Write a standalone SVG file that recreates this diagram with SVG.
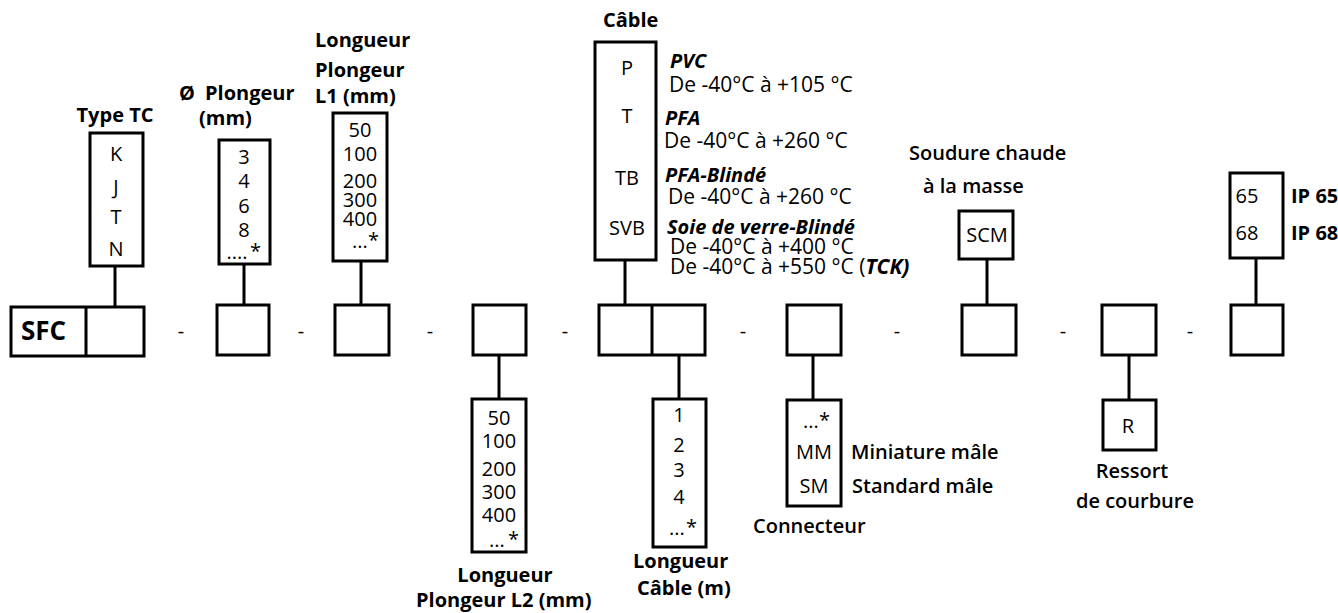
<svg xmlns="http://www.w3.org/2000/svg" width="1338" height="613" viewBox="0 0 1338 613">
<style>
text{font-family:"Open Sans","Noto Sans","DejaVu Sans",sans-serif;fill:#000;font-size:20px}
.b{fill:none;stroke:#000;stroke-width:3}
.c{text-anchor:middle}
.lb{font-weight:700}
.md{font-weight:600}
.it{font-weight:700;font-style:italic}
.d{font-size:21px}
</style>
<rect width="1338" height="613" fill="#fff"/>
<g id="connectors" stroke="#000" stroke-width="3" fill="none">
<line x1="115" y1="266" x2="115" y2="307"/>
<line x1="244" y1="264" x2="244" y2="305"/>
<line x1="361" y1="261" x2="361" y2="305"/>
<line x1="625" y1="260" x2="625" y2="305"/>
<line x1="987" y1="259" x2="987" y2="305"/>
<line x1="1256" y1="258" x2="1256" y2="305"/>
<line x1="499" y1="355" x2="499" y2="399"/>
<line x1="679" y1="355" x2="679" y2="399"/>
<line x1="813" y1="355" x2="813" y2="400"/>
<line x1="1129" y1="355" x2="1129" y2="400"/>
</g>
<g id="main-row">
<rect class="b" x="11" y="307" width="133" height="49"/>
<line x1="86" y1="307" x2="86" y2="356" stroke="#000" stroke-width="3"/>
<text x="21" y="340" style="font-size:26px;font-weight:700">SFC</text>
<rect class="b" x="217" y="305" width="52" height="50"/>
<rect class="b" x="335" y="305" width="54" height="50"/>
<rect class="b" x="473" y="305" width="53" height="50"/>
<rect class="b" x="599" y="305" width="106" height="50"/>
<line x1="652" y1="305" x2="652" y2="355" stroke="#000" stroke-width="3"/>
<rect class="b" x="787" y="305" width="54" height="50"/>
<rect class="b" x="962" y="305" width="54" height="50"/>
<rect class="b" x="1102" y="305" width="54" height="50"/>
<rect class="b" x="1231" y="305" width="52" height="50"/>
<text class="c" x="181" y="338">-</text>
<text class="c" x="301" y="338">-</text>
<text class="c" x="430" y="338">-</text>
<text class="c" x="565" y="338">-</text>
<text class="c" x="743" y="338">-</text>
<text class="c" x="897" y="338">-</text>
<text class="c" x="1063" y="338">-</text>
<text class="c" x="1190" y="338">-</text>
</g>
<g id="type-tc">
<rect class="b" x="90" y="133" width="53" height="133"/>
<text class="c lb" x="115" y="122">Type TC</text>
<text class="c" x="116" y="161">K</text>
<text class="c" x="116" y="194">J</text>
<text class="c" x="116" y="224">T</text>
<text class="c" x="116" y="256">N</text>
</g>
<g id="diametre">
<rect class="b" x="219" y="140" width="51" height="124"/>
<text class="lb" x="179" y="100">Ø</text>
<text class="lb" x="205" y="100">Plongeur</text>
<text class="lb" x="199" y="125">(mm)</text>
<text class="c" x="244" y="164">3</text>
<text class="c" x="244" y="188">4</text>
<text class="c" x="244" y="213">6</text>
<text class="c" x="244" y="237">8</text>
<text class="c" x="237" y="259">....</text>
<text x="250" y="258">*</text>
</g>
<g id="longueur-l1">
<rect class="b" x="333" y="113" width="54" height="148"/>
<text class="lb" x="315" y="47">Longueur</text>
<text class="lb" x="315" y="77">Plongeur</text>
<text class="lb" x="315" y="103">L1 (mm)</text>
<text class="c" x="360" y="137">50</text>
<text class="c" x="360" y="161">100</text>
<text class="c" x="360" y="188">200</text>
<text class="c" x="360" y="207">300</text>
<text class="c" x="360" y="226">400</text>
<text class="c" x="360" y="248">...</text>
<text x="368" y="247">*</text>
</g>
<g id="cable">
<rect class="b" x="595" y="42" width="61" height="218"/>
<text class="lb" x="603" y="27">Câble</text>
<text class="c" x="627" y="75">P</text>
<text class="c" x="627" y="123">T</text>
<text class="c" x="627" y="185">TB</text>
<text class="c" x="627" y="235">SVB</text>
<text class="it" x="670" y="68">PVC</text>
<text class="d" x="669" y="92">De -40°C à +105 °C</text>
<text class="it" x="665" y="125">PFA</text>
<text class="d" x="664" y="148">De -40°C à +260 °C</text>
<text class="it" x="665" y="182">PFA-Blindé</text>
<text class="d" x="668" y="204">De -40°C à +260 °C</text>
<text class="it" x="667" y="234">Soie de verre-Blindé</text>
<text class="d" x="670" y="254">De -40°C à +400 °C</text>
<text class="d" x="670" y="274">De -40°C à +550 °C (<tspan class="it">TCK)</tspan></text>
</g>
<g id="scm">
<rect class="b" x="959" y="211" width="54" height="48"/>
<text class="md" x="909" y="160">Soudure chaude</text>
<text class="md" x="923" y="193">à la masse</text>
<text class="c" x="987" y="242">SCM</text>
</g>
<g id="ip">
<rect class="b" x="1230" y="173" width="53" height="85"/>
<text class="c" x="1247" y="203">65</text>
<text class="c" x="1247" y="240">68</text>
<text class="lb" x="1291" y="203">IP 65</text>
<text class="lb" x="1291" y="240">IP 68</text>
</g>
<g id="longueur-l2">
<rect class="b" x="472" y="399" width="54" height="153"/>
<text class="c" x="499" y="425">50</text>
<text class="c" x="499" y="448">100</text>
<text class="c" x="499" y="476">200</text>
<text class="c" x="499" y="499">300</text>
<text class="c" x="499" y="522">400</text>
<text class="c" x="497" y="547">...</text>
<text x="508" y="546">*</text>
<text class="c lb" x="505" y="582">Longueur</text>
<text class="lb" x="416" y="607">Plongeur L2 (mm)</text>
</g>
<g id="longueur-cable">
<rect class="b" x="653" y="399" width="53" height="148"/>
<text class="c" x="679" y="422">1</text>
<text class="c" x="679" y="452">2</text>
<text class="c" x="679" y="477">3</text>
<text class="c" x="679" y="504">4</text>
<text class="c" x="677" y="535">...</text>
<text x="686" y="534">*</text>
<text class="lb" x="633" y="568">Longueur</text>
<text class="lb" x="637" y="595">Câble (m)</text>
</g>
<g id="connecteur">
<rect class="b" x="787" y="400" width="54" height="106"/>
<text class="c" x="811" y="428">...</text>
<text x="819" y="427">*</text>
<text class="c" x="814" y="459">MM</text>
<text class="c" x="814" y="493">SM</text>
<text class="md" x="851" y="459">Miniature mâle</text>
<text class="md" x="852" y="493">Standard mâle</text>
<text class="md" x="753" y="533">Connecteur</text>
</g>
<g id="ressort">
<rect class="b" x="1103" y="400" width="53" height="50"/>
<text class="c" x="1128" y="433">R</text>
<text class="c md" x="1132" y="478">Ressort</text>
<text class="c md" x="1135" y="508">de courbure</text>
</g>
</svg>
